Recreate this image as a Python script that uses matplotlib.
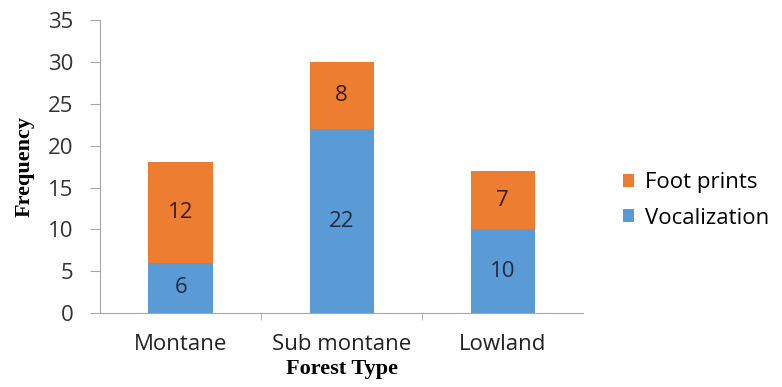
import matplotlib
matplotlib.use("Agg")
import matplotlib.pyplot as plt
import numpy as np

forest = ["Montane", "Sub montane", "Lowland"]
vocalization = [6, 22, 10]
foot_prints = [12, 8, 7]

BLUE = "#5B9BD5"
ORANGE = "#ED7D31"
GREY = "#A6A6A6"

plt.rcParams.update({"font.family": ["Open Sans", "DejaVu Sans"], "font.size": 16})

fig = plt.figure(figsize=(7.82, 3.87), dpi=100)
ax = fig.add_axes([0.128, 0.191, 0.618, 0.757])

xs = np.arange(len(forest))
w = 0.4
b1 = ax.bar(xs, vocalization, w, color=BLUE, label="Vocalization", zorder=2)
b2 = ax.bar(xs, foot_prints, w, bottom=vocalization, color=ORANGE,
            label="Foot prints", zorder=2)

for x, v, f in zip(xs, vocalization, foot_prints):
    ax.text(x, v / 2, str(v), ha="center", va="center", fontsize=16,
            color="#1F2A44")
    ax.text(x, v + f / 2, str(f), ha="center", va="center", fontsize=16,
            color="#3A1A05")

ax.set_xlim(-0.5, 2.5)
ax.set_ylim(0, 35)
ax.set_yticks(range(0, 36, 5))
ax.set_xticks(xs, forest)
ax.set_xticks([0.5, 1.5], minor=True)

for s in ("top", "right"):
    ax.spines[s].set_visible(False)
for s in ("left", "bottom"):
    ax.spines[s].set_color(GREY)
ax.tick_params(axis="y", length=7, color=GREY, labelcolor="#333333", pad=12)
ax.tick_params(axis="x", which="major", length=0, labelcolor="#222222", pad=15)
ax.tick_params(axis="x", which="minor", length=5, color=GREY)

ax.set_xlabel("Forest Type", family="Liberation Serif", fontweight="bold",
              fontsize=16)
ax.set_ylabel("Frequency", family="Liberation Serif", fontweight="bold",
              fontsize=16)
ax.xaxis.set_label_coords(0.5, -0.158)
ax.yaxis.set_label_coords(-0.136, 0.5)

ax.legend([b2, b1], ["Foot prints", "Vocalization"], frameon=False,
          loc="center left", bbox_to_anchor=(1.04, 0.385), handlelength=0.5,
          handleheight=0.5, handletextpad=0.5, labelspacing=0.65, fontsize=16)

fig.savefig("out.png", dpi=100)
